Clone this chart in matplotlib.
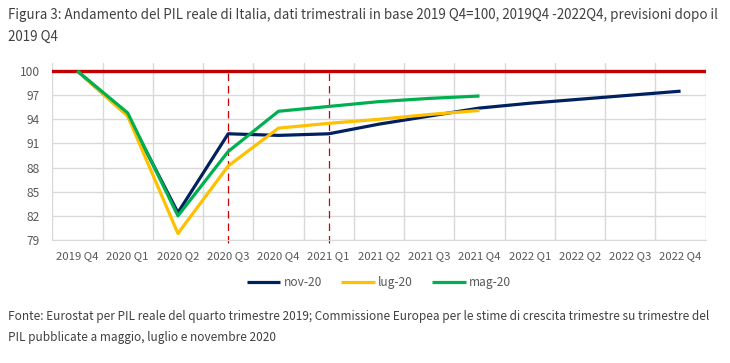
import numpy as np
import matplotlib
matplotlib.use("Agg")
import matplotlib.pyplot as plt

plt.rcParams['font.family'] = ['Noto Sans CJK JP', 'DejaVu Sans']

# data
quarters = ["2019 Q4", "2020 Q1", "2020 Q2", "2020 Q3", "2020 Q4",
            "2021 Q1", "2021 Q2", "2021 Q3", "2021 Q4",
            "2022 Q1", "2022 Q2", "2022 Q3", "2022 Q4"]
nov20 = [100, 94.5, 82.4, 92.2, 92.0, 92.2, 93.4, 94.4, 95.4,
         96.0, 96.5, 97.0, 97.5]
lug20 = [100, 94.4, 79.8, 88.2, 92.9, 93.5, 94.0, 94.6, 95.1]
mag20 = [100, 94.8, 82.0, 90.0, 95.0, 95.6, 96.2, 96.6, 96.9]
y_ticks = [79, 82, 85, 88, 91, 94, 97, 100]
baseline = 100
marker_quarters = ["2020 Q3", "2021 Q1"]

series = [("nov-20", nov20, "#002060"),
          ("lug-20", lug20, "#FFC000"),
          ("mag-20", mag20, "#00B050")]

fig = plt.figure(figsize=(7.3, 3.63), dpi=100)
ax = fig.add_axes([0.0716, 0.339, 0.8951, 0.4874])

x = np.arange(len(quarters))
ax.set_xlim(-0.5, len(quarters) - 0.5)
ax.set_ylim(79, 101)

# grid
ax.set_xticks(np.arange(-0.5, len(quarters)), minor=True)
ax.set_xticks(x)
ax.set_xticklabels(quarters)
ax.set_yticks(y_ticks)
ax.grid(True, which='minor', axis='x', color='#D9D9D9', lw=1)
ax.grid(True, which='major', axis='y', color='#D9D9D9', lw=1)
ax.tick_params(which='both', length=0, colors='#595959', labelsize=8.2)
ax.tick_params(axis='x', pad=8)
ax.tick_params(axis='y', pad=9, labelsize=8.6)
for side in ['top', 'right', 'left']:
    ax.spines[side].set_visible(False)
ax.spines['bottom'].set_color('#D9D9D9')
ax.set_axisbelow(True)

# reference lines
ax.axhline(baseline, color='#C00000', lw=2.4, zorder=2)
for q in marker_quarters:
    xi = quarters.index(q)
    ax.plot([xi, xi], [78.6, baseline], color='#D00000', lw=0.9,
            ls=(0, (6, 4)), clip_on=False, zorder=2)

for name, vals, col in series:
    ax.plot(x[:len(vals)], vals, color=col, lw=2.3, label=name,
            solid_capstyle='butt', zorder=3)

leg = ax.legend(loc='center', bbox_to_anchor=(0.5, -0.24), ncol=3,
                frameon=False, fontsize=8.6, handlelength=2.8,
                handletextpad=0.3, columnspacing=1.6)
for t in leg.get_texts():
    t.set_color('#595959')

fig.text(0.011, 0.958, "Figura 3: Andamento del PIL reale di Italia, dati trimestrali "
         "in base 2019 Q4=100, 2019Q4 -2022Q4, previsioni dopo il",
         fontsize=9.6, color='#404040', va='center')
fig.text(0.011, 0.898, "2019 Q4", fontsize=9.6, color='#404040', va='center')
fig.text(0.011, 0.129, "Fonte: Eurostat per PIL reale del quarto trimestre 2019; "
         "Commissione Europea per le stime di crescita trimestre su trimestre del",
         fontsize=8.5, color='#404040', va='center')
fig.text(0.011, 0.071, "PIL pubblicate a maggio, luglio e novembre 2020",
         fontsize=8.5, color='#404040', va='center')

fig.savefig("out.png", dpi=100)
